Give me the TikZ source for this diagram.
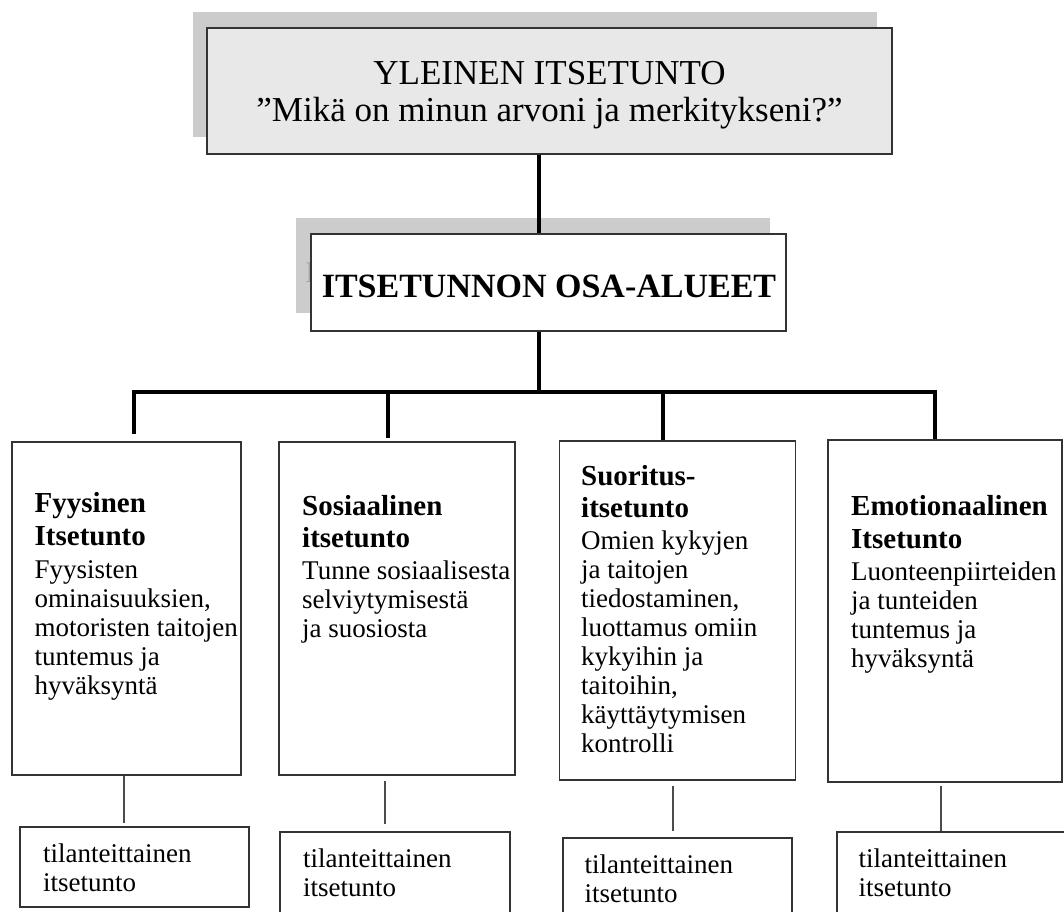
\documentclass[tikz,border=0pt]{standalone}
\usepackage{fontspec}
\setmainfont{Liberation Serif}
% bold heading line inside a text block
\newcommand{\hdline}[1]{{\bfseries\fontsize{29}{29}\selectfont #1}}
\begin{document}
\begin{tikzpicture}[x=1pt,y=-1pt,
  box/.style={draw=black!80, line width=1.6pt, inner sep=0pt, fill=white},
  shadowfill/.style={fill=black!20, draw=none},
  trunk/.style={line width=3.2pt, black},
  twig/.style={line width=1.6pt, black!70},
  title/.style={font=\fontsize{35}{37}\selectfont, align=center, inner sep=0pt},
  subtitle/.style={font=\bfseries\fontsize{34}{36}\selectfont, inner sep=0pt, anchor=base},
  txt/.style={anchor=base west, inner sep=0pt, font=\fontsize{27}{29}\selectfont},
]
\useasboundingbox (0,0) rectangle (1064,911);

% --- top level: general self-esteem ---
\fill[shadowfill] (193,12) rectangle (877,137);
\node[box, fill=black!9, minimum width=685pt, minimum height=126pt] (top) at (549.5,91) {};
\node[title] (toptxt) at (549.5,95.5) {YLEINEN ITSETUNTO\\ ”Mikä on minun arvoni ja merkitykseni?”};

% --- second level: sub-areas ---
\fill[shadowfill] (296,218) rectangle (770,313);
\node[subtitle, text=black!35, font=\fontsize{30}{32}\selectfont] (ghost) at (310,282) {I};
\node[box, minimum width=475pt, minimum height=97pt] (mid) at (548.5,282.5) {};
\node[subtitle] (midtxt) at (549,297) {ITSETUNNON OSA-ALUEET};

% --- trunk and branching bar ---
\coordinate (j) at (539,392);
\coordinate (d1) at (134,434);
\coordinate (d2) at (388,438);
\coordinate (d3) at (663,441);
\coordinate (d4) at (935,439);
\draw[trunk] (j |- top.south) -- (j |- mid.north);
\draw[trunk] (j |- mid.south) -- (j);
\draw[trunk] (d1) |- (j) -| (d4);
\draw[trunk] (d2) -- (d2 |- j);
\draw[trunk] (d3) -- (d3 |- j);

% --- domain boxes ---
\node[box, minimum width=229pt, minimum height=333pt] (b1) at (126.5,608.5) {};
\node[box, minimum width=236pt, minimum height=333pt] (b2) at (397,608.5) {};
\node[box, minimum width=236pt, minimum height=339pt] (b3) at (677.5,610.5) {};
\node[box, minimum width=234pt, minimum height=342pt] (b4) at (945,611) {};

\node[txt] (t1) at (34.5,512) {\parbox[t]{220pt}{\raggedright
  \hdline{Fyysinen}\\[4pt]\hdline{Itsetunto}\\[4pt]
  Fyysisten\\ ominaisuuksien,\\ motoristen taitojen\\ tuntemus ja\\ hyväksyntä}};
\node[txt] (t2) at (302,515) {\parbox[t]{220pt}{\raggedright
  \hdline{Sosiaalinen}\\[3pt]\hdline{itsetunto}\\[3pt]
  Tunne sosiaalisesta\\ selviytymisestä\\ ja suosiosta}};
\node[txt] (t3) at (581,485) {\parbox[t]{220pt}{\raggedright
  \hdline{Suoritus-}\\[3pt]\hdline{itsetunto}\\[3pt]
  Omien kykyjen\\ ja taitojen\\ tiedostaminen,\\ luottamus omiin\\ kykyihin ja\\ taitoihin,\\ käyttäytymisen\\ kontrolli}};
\node[txt] (t4) at (851,515) {\parbox[t]{220pt}{\raggedright
  \hdline{Emotionaalinen}\\[4pt]\hdline{Itsetunto}\\[3pt]
  Luonteenpiirteiden\\ ja tunteiden\\ tuntemus ja\\ hyväksyntä}};

% --- situational self-esteem boxes ---
\node[box, minimum width=229pt, minimum height=80pt] (s1) at (134.5,867) {};
\node[box, minimum width=230pt, minimum height=98pt] (s2) at (395,881) {};
\node[box, minimum width=229pt, minimum height=92pt] (s3) at (677.5,884) {};
\node[box, minimum width=243pt, minimum height=98pt] (s4) at (958.5,881) {};

\node[txt] (u1) at (43,862) {\parbox[t]{200pt}{\raggedright tilanteittainen\\ itsetunto}};
\node[txt] (u2) at (303,867) {\parbox[t]{200pt}{\raggedright tilanteittainen\\ itsetunto}};
\node[txt] (u3) at (584.5,873) {\parbox[t]{200pt}{\raggedright tilanteittainen\\ itsetunto}};
\node[txt] (u4) at (858.5,867) {\parbox[t]{200pt}{\raggedright tilanteittainen\\ itsetunto}};

% --- links from domains to situational boxes ---
\coordinate (v1) at (124,800);
\coordinate (v2) at (385,800);
\coordinate (v3) at (673,800);
\coordinate (v4) at (941,800);
\draw[twig, shorten >=3pt] (b1.south -| v1) -- (s1.north -| v1);
\draw[twig, shorten <=5pt, shorten >=7pt] (b2.south -| v2) -- (s2.north -| v2);
\draw[twig, shorten <=5pt, shorten >=6pt] (b3.south -| v3) -- (s3.north -| v3);
\draw[twig, shorten <=3pt] (b4.south -| v4) -- (s4.north -| v4);
\end{tikzpicture}
\end{document}
